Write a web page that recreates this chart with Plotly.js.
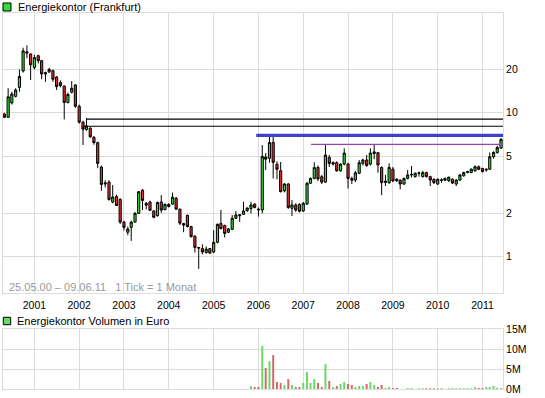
<!DOCTYPE html>
<html><head><meta charset="utf-8">
<script src="https://cdn.plot.ly/plotly-3.0.1.min.js"></script>
<style>html,body{margin:0;padding:0;background:#fff}#c{width:545px;height:398px}</style>
</head><body><div id="c"></div>
<script>
// Monthly candles, May 2000 - June 2011
const months = [];
for (let y = 2000, m = 5; !(y === 2011 && m === 7); ) {
  months.push(y + '-' + String(m).padStart(2, '0') + '-01');
  m++; if (m > 12) { m = 1; y++; }
}
const open = [9.8,9.3,11.7,13.0,15.0,19.5,26.5,25.6,20.6,24.9,23.0,18.6,19.2,19.6,17.7,16.2,15.3,11.8,13.9,15.6,
11.1,8.6,7.65,7.8,6.75,6.2,4.2,3.2,3.3,2.4,2.62,2.5,1.74,1.48,1.6,1.74,2.0,2.9,2.35,2.4,2.08,1.93,2.4,2.13,
2.31,2.32,2.55,2.14,1.7,1.94,1.62,1.39,1.16,1.14,1.07,1.14,1.08,1.26,1.7,1.65,1.48,1.55,1.85,1.96,1.97,2.09,2.16,2.32,
2.14,2.11,4.93,4.83,6.22,4.39,3.96,2.87,3.2,2.17,2.29,2.31,2.08,2.32,3.24,3.5,4.17,3.6,3.3,4.9,4.4,4.5,3.95,4.4,
4.4,3.5,3.41,3.8,4.45,4.7,4.4,5.2,5.28,4.17,3.28,3.27,4.06,3.46,3.4,3.2,3.5,3.7,3.6,3.8,3.6,3.84,3.6,3.45,
3.2,3.42,3.4,3.38,3.45,3.2,3.41,3.65,3.85,3.85,3.95,4.22,4.1,4.0,4.05,4.95,5.3,5.68];
const high = [10.0,14.8,14.0,14.8,20.0,28.3,29.4,25.8,25.2,25.3,23.3,19.3,20.5,20.0,18.0,16.8,15.5,13.8,16.6,15.8,
11.4,8.8,9.2,8.0,6.9,6.3,4.3,3.4,3.4,3.15,2.7,2.55,1.78,1.62,1.78,2.05,2.85,2.95,2.4,2.45,2.1,2.42,2.68,2.35,
2.35,2.79,2.6,2.16,1.72,1.96,1.64,1.41,1.17,1.22,1.18,1.15,1.53,1.7,2.11,1.67,1.58,1.95,2.08,1.98,2.41,2.2,2.41,2.35,
2.2,5.97,5.25,6.82,6.82,4.6,4.55,3.25,3.25,2.48,2.35,2.35,2.4,3.3,3.55,4.53,4.3,3.7,5.97,5.1,4.6,4.6,4.45,5.66,
4.5,3.6,3.95,4.7,4.8,5.09,5.66,6.0,5.35,4.25,3.7,4.45,4.2,3.5,3.45,3.55,4.0,4.27,3.85,3.9,3.95,3.9,3.65,3.5,
3.5,3.5,3.55,3.6,3.5,3.45,3.75,3.9,3.95,4.1,4.3,4.3,4.15,4.1,5.3,5.4,5.9,6.64];
const low = [9.2,9.2,11.4,12.8,14.0,19.0,23.9,16.9,20.0,22.0,17.1,16.4,18.9,16.4,14.4,15.0,9.0,11.6,13.6,10.8,
8.4,5.97,7.5,6.7,6.0,4.12,2.87,3.03,2.45,2.35,2.25,1.69,1.52,1.41,1.29,1.72,1.98,2.11,2.13,2.08,1.85,1.9,2.02,2.1,
2.2,2.3,2.12,1.66,1.48,1.6,1.36,1.07,0.825,1.04,1.05,1.05,1.06,1.24,1.55,1.36,1.46,1.53,1.83,1.75,1.95,2.05,2.0,2.17,
1.9,2.0,4.0,4.5,3.5,3.45,2.8,2.8,2.15,1.92,2.05,2.03,2.05,2.3,3.2,3.45,3.35,3.2,3.25,4.2,4.3,3.9,3.9,4.3,
2.98,3.2,3.3,3.75,4.3,4.2,4.3,4.75,3.83,2.68,3.1,3.2,3.3,3.3,2.94,3.15,3.45,3.55,3.55,3.6,3.55,3.55,3.1,3.2,
3.15,3.27,3.35,3.3,3.2,3.1,3.35,3.6,3.8,3.8,3.9,4.0,3.85,3.9,4.0,4.8,5.2,5.6];
const close = [9.3,12.9,13.5,14.4,17.9,26.9,26.0,21.5,24.2,23.0,18.6,19.0,20.0,17.1,15.2,15.4,11.8,13.4,14.8,11.1,
8.6,7.7,8.1,6.8,6.2,4.45,3.18,3.25,2.5,2.6,2.27,1.74,1.6,1.56,1.74,2.0,2.83,2.46,2.28,2.1,1.88,2.38,2.11,2.31,
2.23,2.59,2.14,1.71,1.66,1.62,1.38,1.16,1.15,1.08,1.13,1.06,1.26,1.68,1.57,1.45,1.56,1.85,1.95,1.93,2.08,2.18,2.29,2.2,
2.12,4.98,4.76,6.22,4.53,4.05,2.83,3.2,2.2,2.29,2.11,2.07,2.35,3.24,3.5,4.17,3.47,3.3,5.09,4.45,4.5,3.95,4.4,5.25,
3.5,3.4,3.83,4.5,4.7,4.3,5.25,5.35,4.34,3.27,3.35,4.17,3.36,3.38,3.2,3.5,3.7,3.73,3.8,3.82,3.84,3.6,3.41,3.27,
3.45,3.4,3.5,3.57,3.25,3.41,3.7,3.84,3.9,4.06,4.22,4.05,3.9,4.05,4.95,5.3,5.73,6.55];
// Volume in million EUR (none shown before Nov 2005)
const volumeM = [].concat(new Array(66).fill(0), [
0.75,0.5,0.5,10.8,5.3,7.0,8.55,1.76,1.5,1.0,2.5,1.0,0.5,0.5,
1.5,4.3,1.5,2.5,1.5,0.5,6.3,2.0,0.5,0.75,1.26,1.76,
1.26,1.0,0.5,0.75,0.75,1.26,1.76,1.0,0.5,1.0,0.25,0.5,
0.25,0.25,0,0,0.25,0.25,0,0.2,0.2,0.2,0.2,0.2,
0.2,0.2,0,0.2,0.2,0.2,0.2,0.2,0.2,0.2,0.45,0.25,
0.25,0.5,0.5,0.75,0.3,0.25]);
// Horizontal marker lines: [level, start date]
const lineBlack1 = [9.03, '2002-03-01'];
const lineBlack2 = [8.06, '2002-02-01'];
const lineBlue = [6.97, '2005-12-14'];
const lineMagenta = [6.04, '2007-03-05'];
const xStart = '2000-04-20', xEnd = '2011-06-17';
const yearTicks = ['2001','2002','2003','2004','2005','2006','2007','2008','2009','2010','2011'];
const priceTicks = [1, 2, 5, 10, 20];
const volTicks = [0, 5, 10, 15];

const GREEN = '#33dd33', RED = '#e62e2e';
const VGREEN = '#66d966', VRED = '#d96666';
const FONT = 'Liberation Sans, Arial, sans-serif';

const volColors = close.map((c, i) => c >= open[i] ? VGREEN : VRED);
function hline(l, color, width) {
  return {type: 'scatter', mode: 'lines', x: [l[1], xEnd], y: [l[0], l[0]],
    xaxis: 'x', yaxis: 'y', line: {color: color, width: width}, hoverinfo: 'skip'};
}
const traces = [
  {type: 'candlestick', x: months, open: open, high: high, low: low, close: close,
   xaxis: 'x', yaxis: 'y', whiskerwidth: 0,
   increasing: {line: {color: '#000', width: 1}, fillcolor: GREEN},
   decreasing: {line: {color: '#000', width: 1}, fillcolor: RED}, hoverinfo: 'skip'},
  hline(lineBlack1, '#000', 1.2),
  hline(lineBlack2, '#000', 1.2),
  hline(lineBlue, '#4040cc', 3.2),
  hline(lineMagenta, '#a040b0', 1.3),
  {type: 'bar', x: months, y: volumeM.map(v => v * 1e6), xaxis: 'x2', yaxis: 'y2',
   marker: {color: volColors, line: {width: 0}}, width: 16 * 86400000, hoverinfo: 'skip'}
];
const grid = '#dcdcdc';
const tickFont = {family: FONT, size: 10.5, color: '#000'};
const layout = {
  width: 545, height: 398, margin: {l: 3, r: 42, t: 13, b: 9},
  paper_bgcolor: '#fff', plot_bgcolor: '#fff', showlegend: false, boxgap: 0.1,
  font: {family: FONT, size: 11, color: '#000'},
  xaxis: {type: 'date', range: [xStart, xEnd], domain: [0, 1], anchor: 'y',
    tickvals: yearTicks.map(y => y + '-01-01'), ticktext: yearTicks, ticks: '', ticklabelstandoff: 2,
    showgrid: true, gridcolor: grid, gridwidth: 1, showline: true, mirror: true, linecolor: grid,
    zeroline: false, tickfont: tickFont, rangeslider: {visible: false}, fixedrange: true},
  xaxis2: {type: 'date', range: [xStart, xEnd], domain: [0, 1], anchor: 'y2', matches: 'x',
    tickvals: yearTicks.map(y => y + '-01-01'), showticklabels: false, ticks: '',
    showgrid: true, gridcolor: grid, showline: true, mirror: true, linecolor: grid, zeroline: false},
  yaxis: {type: 'log', domain: [0.2553, 1], range: [Math.log10(0.56), Math.log10(49.3)], side: 'right',
    tickvals: priceTicks, ticktext: priceTicks.map(String), ticks: '', showgrid: true, gridcolor: grid,
    showline: true, mirror: true, linecolor: grid, zeroline: false, tickfont: tickFont, anchor: 'x'},
  yaxis2: {domain: [0, 0.1588], range: [0, 15e6], side: 'right', anchor: 'x2',
    tickvals: volTicks.map(v => v * 1e6), ticktext: volTicks.map(v => v + 'M'), ticks: '',
    showgrid: true, gridcolor: grid, showline: true, mirror: true, linecolor: grid, zeroline: false, tickfont: tickFont},
  shapes: [
    {type: 'rect', xref: 'paper', yref: 'paper', x0: 0, x1: 0.016, y0: 1.0053, y1: 1.0266,
     fillcolor: GREEN, line: {color: '#000', width: 1}},
    {type: 'rect', xref: 'paper', yref: 'paper', x0: 0.0006, x1: 0.0154, y0: 0.171, y1: 0.1907,
     fillcolor: VGREEN, line: {color: '#000', width: 1}}
  ],
  annotations: [
    {xref: 'paper', yref: 'paper', x: 0.026, y: 1.016, xanchor: 'left', yanchor: 'middle', showarrow: false,
     text: 'Energiekontor (Frankfurt)', font: {family: FONT, size: 11, color: '#000'}},
    {xref: 'paper', yref: 'paper', x: 0.0246, y: 0.1809, xanchor: 'left', yanchor: 'middle', showarrow: false,
     text: 'Energiekontor Volumen in Euro', font: {family: FONT, size: 11, color: '#000'}},
    {xref: 'paper', yref: 'paper', x: 0.0086, y: 0.272, xanchor: 'left', yanchor: 'middle', showarrow: false,
     text: '25.05.00 \u2013 09.06.11   1 Tick = 1 Monat', font: {family: FONT, size: 11, color: '#999'}}
  ]
};
Plotly.newPlot('c', traces, layout, {displayModeBar: false, staticPlot: true});
</script></body></html>
